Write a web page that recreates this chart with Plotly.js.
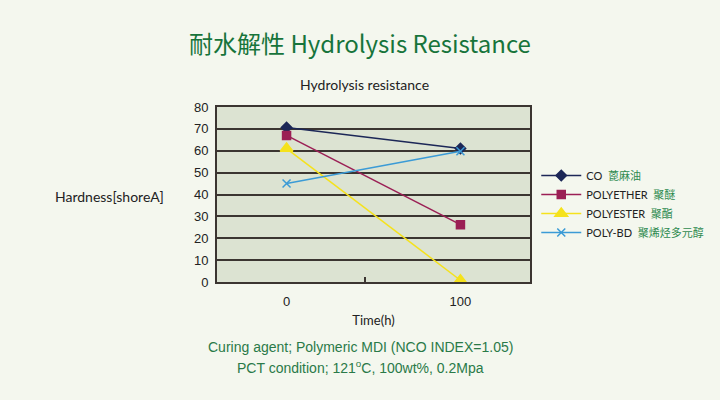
<!DOCTYPE html>
<html><head><meta charset="utf-8">
<script src="https://cdn.plot.ly/plotly-3.0.1.min.js"></script>
<style>html,body{margin:0;padding:0;background:#f4f7ee;}#c{width:720px;height:400px;}</style>
</head><body><div id="c"></div>
<script>
const times = [0, 100];
const seriesNames = ['CO', 'POLYETHER', 'POLYESTER', 'POLY-BD'];
const seriesCN = ['蓖麻油', '聚醚', '聚酯', '聚烯烃多元醇'];
const coVals = [70.6, 61];
const polyetherVals = [67, 26.2];
const polyesterVals = [61, 0.8];
const polybdVals = [45, 59.8];
const yTicks = [0, 10, 20, 30, 40, 50, 60, 70, 80];
const xTickLabels = ['0', '100'];

const vals = [coVals, polyetherVals, polyesterVals, polybdVals];
const colors = ['#1c2757', '#9b1f55', '#f5e21c', '#3b9bd6'];
const symbols = ['diamond', 'square', 'triangle-up', 'x-thin'];
const msizes = [8, 8, 11, 8];
const cnColor = '#2e8a4e';

const data = seriesNames.map((n, i) => ({
  x: times, y: vals[i], type: 'scatter', mode: 'lines+markers',
  name: n + '  <span style="color:' + cnColor + '">' + seriesCN[i] + '</span>',
  line: {color: colors[i], width: 1.5},
  marker: {symbol: symbols[i], size: msizes[i], color: colors[i], line: {color: colors[i], width: 1.5}}
}));

const txt = '#222222';
const layout = {
  width: 720, height: 400,
  paper_bgcolor: '#f4f7ee', plot_bgcolor: '#dce3d2',
  margin: {l: 217, r: 190, t: 107, b: 118, autoexpand: false},
  font: {family: 'Lato, "Noto Sans CJK SC", sans-serif', size: 12, color: txt},
  xaxis: {
    range: [-40, 140], tickvals: times, ticktext: xTickLabels,
    showgrid: false, zeroline: false, showline: true, mirror: true,
    linecolor: '#3b3531', linewidth: 2, ticks: '', ticklen: 0, ticklabelstandoff: 6,
    tickfont: {family: '"Liberation Sans", Arial, sans-serif', size: 13, color: txt},
    minor: {tickvals: [45], ticks: 'inside', ticklen: 5, tickcolor: '#3b3531', tickwidth: 1.5},
    title: {text: 'Time(h)', font: {family: 'Lato, sans-serif', size: 13, color: txt}, standoff: 8}
  },
  yaxis: {
    range: [0, 80], tickvals: yTicks, showgrid: true, gridcolor: '#3b3531', gridwidth: 2,
    zeroline: false, showline: true, mirror: true, linecolor: '#3b3531', linewidth: 2,
    ticks: '', ticklabelstandoff: 4,
    tickfont: {family: '"Liberation Sans", Arial, sans-serif', size: 13, color: txt}
  },
  showlegend: true,
  legend: {x: 1.02, xref: 'paper', y: 0.446, yanchor: 'middle', bgcolor: 'rgba(0,0,0,0)',
    font: {family: 'Lato, "Noto Sans CJK SC", sans-serif', size: 11, color: txt},
    tracegroupgap: 0, itemwidth: 40},
  annotations: [
    {text: '耐水解性 Hydrolysis Resistance', xref: 'paper', yref: 'paper', x: 0.457, y: 1, yshift: 65, yanchor: 'middle',
     showarrow: false, font: {family: '"Noto Sans CJK SC", "Noto Sans", sans-serif', size: 24, color: '#17743b'}},
    {text: 'Hydrolysis resistance', xref: 'paper', yref: 'paper', x: 0.47, y: 1, yshift: 23, yanchor: 'middle',
     showarrow: false, font: {family: 'Lato, sans-serif', size: 14, color: txt}},
    {text: 'Hardness[shoreA]', xref: 'paper', yref: 'paper', x: -0.163, y: 0.486, xanchor: 'right', yanchor: 'middle',
     showarrow: false, font: {family: 'Lato, sans-serif', size: 14, color: txt}},
    {text: 'Curing agent; Polymeric MDI (NCO INDEX=1.05)', xref: 'paper', yref: 'paper', x: 0.457, y: 0, yshift: -65, yanchor: 'middle',
     showarrow: false, font: {family: '"Liberation Sans", Arial, sans-serif', size: 14, color: '#2a7a48'}},
    {text: 'PCT condition; 121<sup>o</sup>C, 100wt%, 0.2Mpa', xref: 'paper', yref: 'paper', x: 0.457, y: 0, yshift: -85, yanchor: 'middle',
     showarrow: false, font: {family: '"Liberation Sans", Arial, sans-serif', size: 14, color: '#2a7a48'}}
  ]
};
Plotly.newPlot('c', data, layout, {displayModeBar: false, staticPlot: true});
</script></body></html>
